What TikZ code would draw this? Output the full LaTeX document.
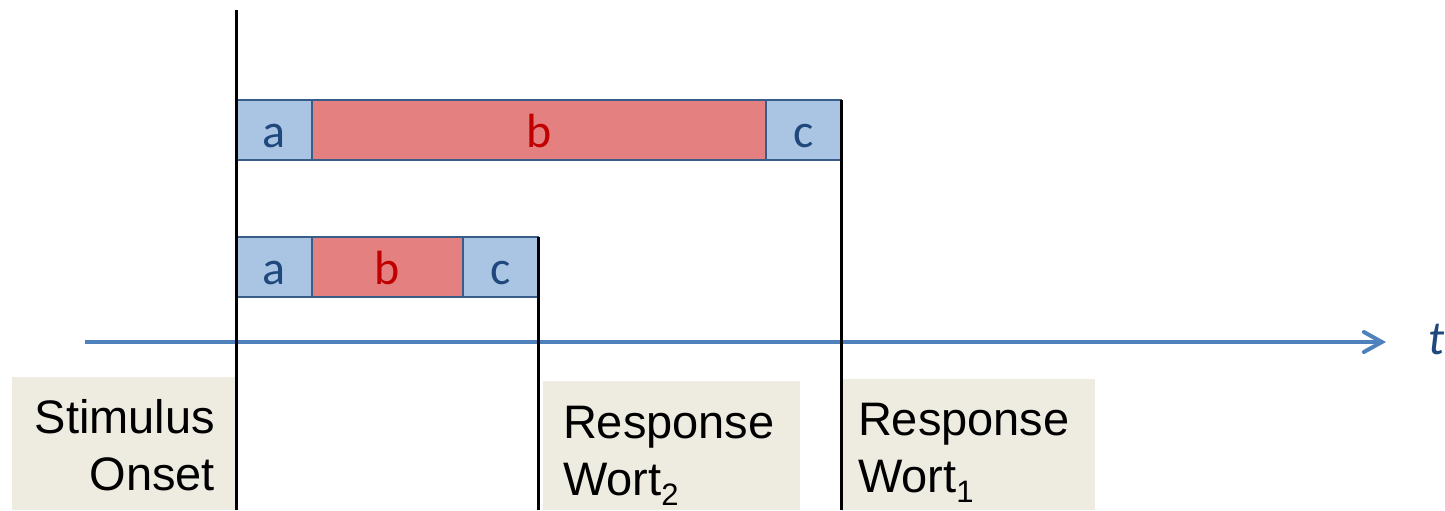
\documentclass[tikz,border=0pt]{standalone}
\usepackage{fontspec}
\setmainfont{Liberation Sans}
\newfontfamily\calib{Carlito}
\usetikzlibrary{arrows.meta,positioning}
\definecolor{boxblue}{RGB}{170,196,228}
\definecolor{boxred}{RGB}{228,128,128}
\definecolor{boxedge}{RGB}{56,93,138}
\definecolor{txtblue}{RGB}{31,73,125}
\definecolor{txtred}{RGB}{192,0,0}
\definecolor{axisblue}{RGB}{79,129,189}
\definecolor{tan}{RGB}{238,236,225}
\newcommand{\lowsub}[1]{\raisebox{-5pt}{\fontsize{15.5}{15.5}\selectfont #1}}
\tikzset{
  seg/.style={draw=boxedge,line width=1pt,outer sep=0pt,inner sep=0pt,
    minimum height=30pt,text height=17pt,text depth=0pt,
    font=\calib\fontsize{24}{28}\selectfont},
  segblue/.style={seg,fill=boxblue,text=txtblue},
  segred/.style={seg,fill=boxred,text=txtred},
  tanbox/.style={fill=tan,draw=none,inner sep=0pt,outer sep=0pt,anchor=north west},
  lbl/.style={inner sep=0pt,outer sep=0pt,font=\fontsize{23.5}{28.5}\selectfont},
  tick/.style={line width=1.5pt,draw=black},
  axis/.style={line width=2pt,draw=axisblue,
    -{Straight Barb[length=9pt,width=10pt,line cap=round]}}
}
\begin{document}
\begin{tikzpicture}[x=0.5pt,y=-0.5pt]
\useasboundingbox (0,0) rectangle (1445,510);
% grey label boxes
\node[tanbox,minimum width=112.5pt,minimum height=66.5pt] (g1) at (12,377) {};
\node[tanbox,minimum width=128.5pt,minimum height=64.5pt] (g2) at (543,381) {};
\node[tanbox,minimum width=127.5pt,minimum height=65.5pt] (g3) at (840,379) {};
\node[lbl,anchor=north east,align=right] (l1) at (215,399) {Stimulus\\Onset};
\node[lbl,anchor=north west,align=left] (l2) at (563,406) {Response\\Wort\lowsub{2}};
\node[lbl,anchor=north west,align=left] (l3) at (858,403) {Response\\Wort\lowsub{1}};
% time axis
\coordinate (ax0) at (85,342);
\coordinate (ax1) at (1386,342);
\draw[axis] (ax0) -- (ax1);
\node[inner sep=0pt,anchor=base,text=txtblue,font=\calib\itshape\fontsize{24}{28}\selectfont] (t) at (1437,354) {t};
% top bar
\node[segblue,anchor=north west,minimum width=38pt] (a1) at (236,100) {a};
\node[segred,anchor=west,minimum width=227pt] (b1) at (a1.east) {b};
\node[segblue,anchor=west,minimum width=37.5pt] (c1) at (b1.east) {c};
% bottom bar
\node[segblue,anchor=north west,minimum width=38pt] (a2) at (236,237) {a};
\node[segred,anchor=west,minimum width=75.5pt] (b2) at (a2.east) {b};
\node[segblue,anchor=west,minimum width=37.5pt] (c2) at (b2.east) {c};
% vertical markers
\coordinate (s0) at (236,10);
\coordinate (s1) at (236,510);
\coordinate (r2) at (c2.north east |- 0,510);
\coordinate (r1) at (c1.north east |- 0,510);
\draw[tick] (s0) -- (s1);
\draw[tick] (c2.north east) -- (r2);
\draw[tick] (c1.north east) -- (r1);
\end{tikzpicture}
\end{document}
